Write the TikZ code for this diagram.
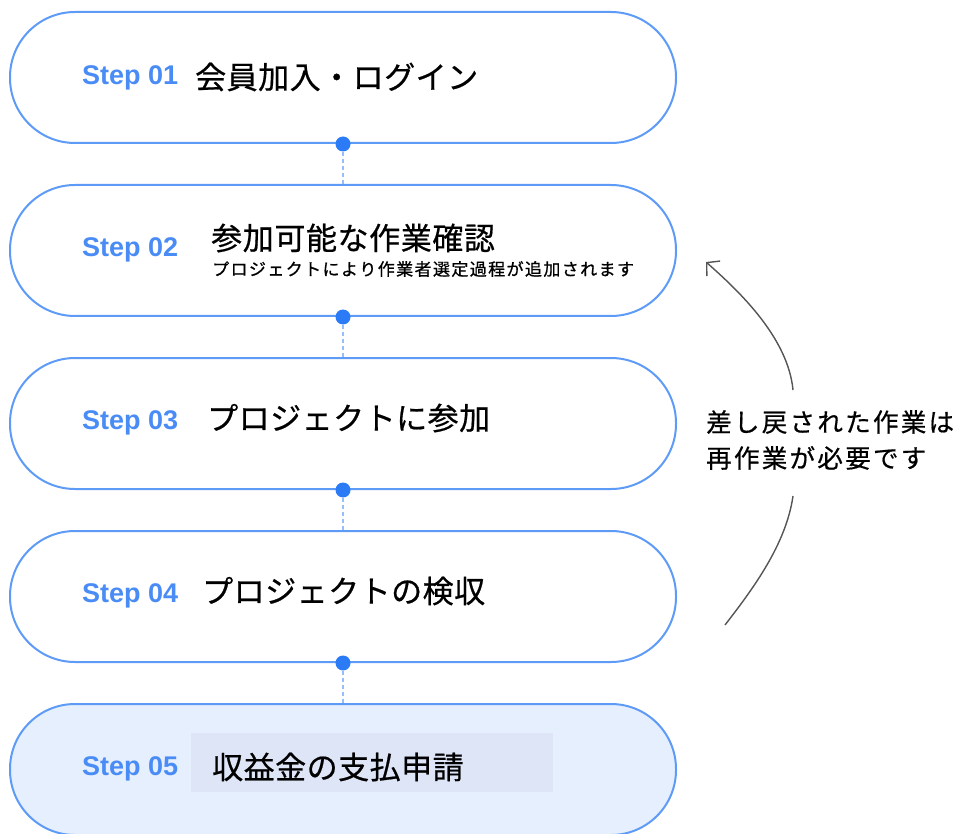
\documentclass[tikz,border=0pt]{standalone}
\usepackage{fontspec}
\setmainfont{Noto Sans CJK JP}
\newfontfamily\jpfont[FakeBold=0.6]{Noto Sans CJK JP}
\newfontfamily\jpfontsub[FakeBold=0.9]{Noto Sans CJK JP}
\newfontfamily\stepfont{Liberation Sans}
\usetikzlibrary{arrows.meta}
\makeatletter
\newcommand\tracked[2]{\@tfor\tr@ch:=#2\do{\tr@ch\kern#1}}
\makeatother
\definecolor{boxblue}{RGB}{94,155,247}
\definecolor{dotblue}{RGB}{43,123,246}
\definecolor{dashblue}{RGB}{150,190,250}
\definecolor{stepblue}{RGB}{74,140,245}
\definecolor{lastfill}{RGB}{230,239,253}
\definecolor{hlfill}{RGB}{222,229,246}
\definecolor{arcgray}{RGB}{85,85,85}
\begin{document}
\begin{tikzpicture}[x=1pt,y=-1pt,
  stepbox/.style={draw=boxblue, line width=2pt, rounded corners=65pt, minimum width=666pt, minimum height=131pt, inner sep=0pt, fill=white},
  steplabel/.style={anchor=west, inner sep=0pt, text=stepblue, font=\stepfont\bfseries\fontsize{27}{30}\selectfont},
  maintext/.style={anchor=west, inner sep=0pt, font=\jpfont\fontsize{31}{36}\selectfont},
  subtext/.style={anchor=west, inner sep=0pt, font=\jpfontsub\fontsize{17}{20}\selectfont},
  notetext/.style={anchor=west, inner sep=0pt, align=left, font=\jpfont\fontsize{25.5}{36}\selectfont},
  joint/.style={circle, fill=dotblue, minimum size=15pt, inner sep=0pt},
  link/.style={draw=dashblue, line width=2pt, dash pattern=on 4pt off 3pt},
  arcline/.style={draw=arcgray, line width=1.4pt},
]
\useasboundingbox (0,0) rectangle (961,834);
% boxes
\node[stepbox] (b1) at (343,77.5) {};
\node[stepbox] (b2) at (343,250.5) {};
\node[stepbox] (b3) at (343,423.5) {};
\node[stepbox] (b4) at (343,596.5) {};
\node[stepbox, fill=lastfill] (b5) at (343,769.5) {};
% joints
\node[joint] (d1) at (b1.south) {};
\node[joint] (d2) at (b2.south) {};
\node[joint] (d3) at (b3.south) {};
\node[joint] (d4) at (b4.south) {};
\draw[link] (d1.south) -- (b2.north);
\draw[link] (d2.south) -- (b3.north);
\draw[link] (d3.south) -- (b4.north);
\draw[link] (d4.south) -- (b5.north);
% texts
\node[steplabel] (s1) at (82,77.5) {Step 01};
\node[maintext] (t1) at (195,77) {\tracked{0.5pt}{会員加入・ログイン}};
\node[steplabel] (s2) at (82,250) {Step 02};
\node[maintext] (t2) at (211,238) {\tracked{0.6pt}{参加可能な作業確認}};
\node[subtext] (u2) at (212,269) {\tracked{1.4pt}{プロジェクトにより作業者選定過程が追加されます}};
\node[steplabel] (s3) at (82,423) {Step 03};
\node[maintext] (t3) at (207,418) {\tracked{0.5pt}{プロジェクトに参加}};
\node[steplabel] (s4) at (82,596) {Step 04};
\node[maintext] (t4) at (202,591) {\tracked{0.5pt}{プロジェクトの検収}};
\node[fill=hlfill, minimum width=362pt, minimum height=59pt, inner sep=0pt, anchor=north west] (h5) at (191,733) {};
\node[steplabel] (s5) at (82,769) {Step 05};
\node[maintext] (t5) at (212,767) {\tracked{0.5pt}{収益金の支払申請}};
% note and arc
\node[notetext] (note) at (706,440) {\tracked{2.3pt}{差し戻された作業は}\\\tracked{2.3pt}{再作業が必要です}};
\coordinate (a1) at (725,625);
\coordinate (a2) at (793,496);
\coordinate (a3) at (793,390);
\coordinate (a4) at (706,262);
\draw[arcline] (a1) .. controls (752,590) and (786,545) .. (a2);
\draw[arcline, -{Straight Barb[length=9pt,width=20pt]}] (a3) .. controls (788,338) and (740,292) .. (a4);
\end{tikzpicture}
\end{document}
